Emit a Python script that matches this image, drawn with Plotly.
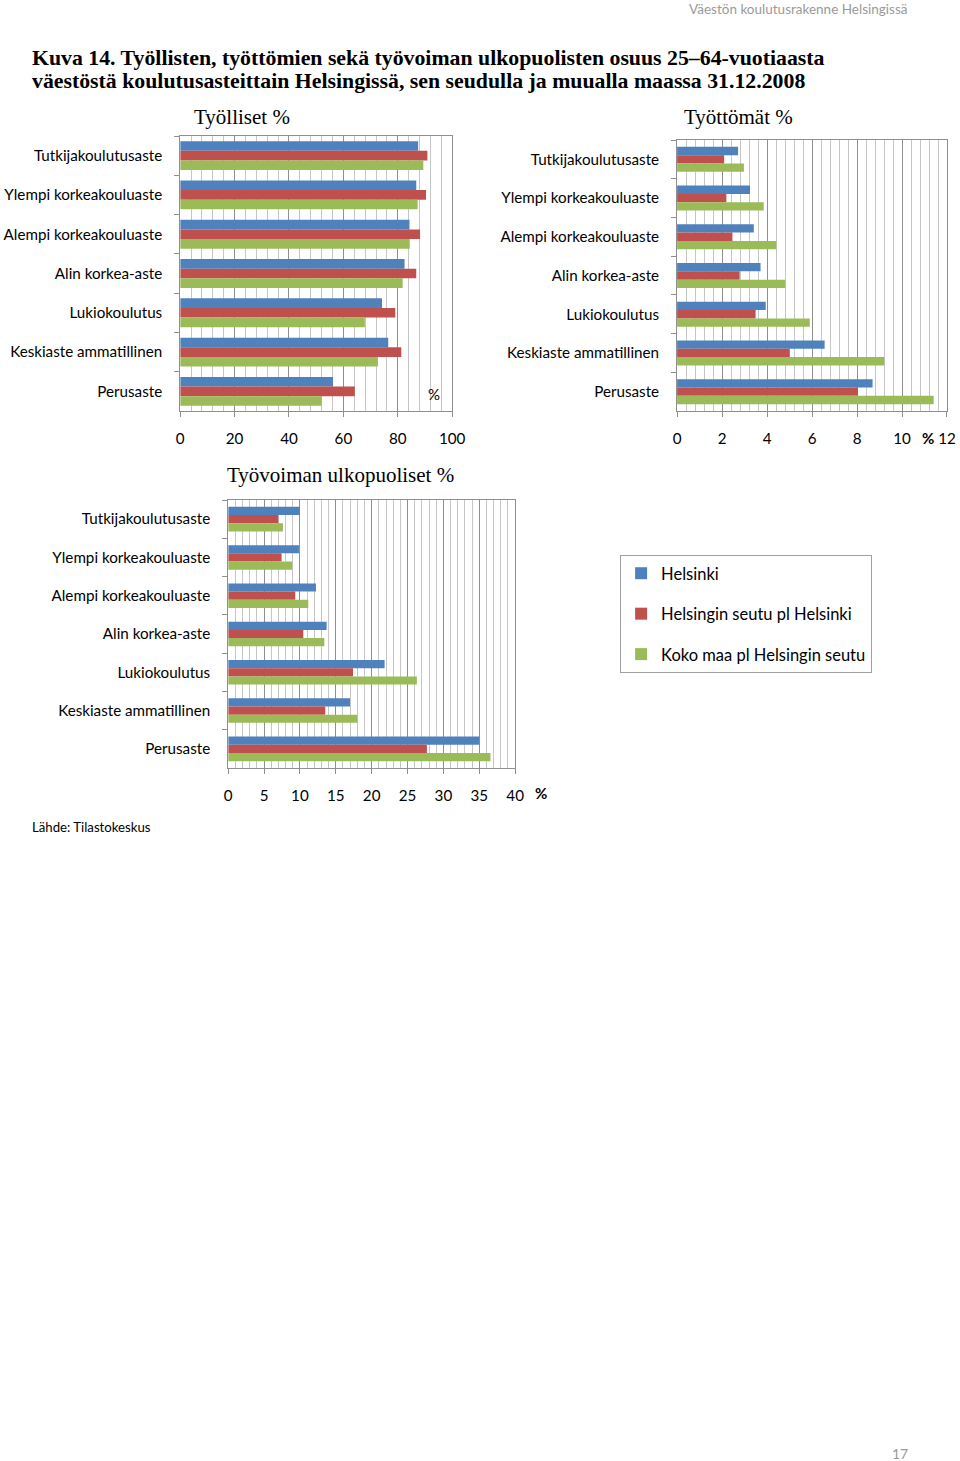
import plotly.graph_objects as go

# ---------------- data ----------------
categories = ["Tutkijakoulutusaste", "Ylempi korkeakouluaste", "Alempi korkeakouluaste",
              "Alin korkea-aste", "Lukiokoulutus", "Keskiaste ammatillinen", "Perusaste"]
series_names = ["Helsinki", "Helsingin seutu pl Helsinki", "Koko maa pl Helsingin seutu"]

employed_helsinki = [87.5, 86.8, 84.3, 82.5, 74.2, 76.5, 56.2]
employed_region = [90.9, 90.4, 88.2, 86.8, 79.1, 81.3, 64.2]
employed_country = [89.4, 87.3, 84.4, 81.8, 67.9, 72.7, 52.0]

unemployed_helsinki = [2.71, 3.24, 3.41, 3.71, 3.94, 6.56, 8.69]
unemployed_region = [2.09, 2.19, 2.46, 2.78, 3.49, 5.01, 8.04]
unemployed_country = [2.97, 3.85, 4.41, 4.81, 5.90, 9.21, 11.41]

outside_helsinki = [10.0, 9.86, 12.23, 13.72, 21.8, 16.98, 35.0]
outside_region = [6.98, 7.44, 9.35, 10.47, 17.4, 13.53, 27.7]
outside_country = [7.63, 8.93, 11.16, 13.40, 26.3, 18.0, 36.56]

panel_titles = ["Työlliset %", "Työttömät %", "Työvoiman ulkopuoliset %"]

# ---------------- styles ----------------
W, H = 960, 1461
XS, XO = 0.9825, 3.75  # horizontal mapping observed in the photographed page
colors = ["#4F81BD", "#C0504D", "#9BBB59"]
SANS = "Lato"
SERIF = "Liberation Serif"
GRID = "#8f8f8f"
MINOR = "#c6c6c6"


def px_x(x):
    v = ((x - XO) / XS) / W
    return min(max(v, 0.0), 1.0)


def px_y(y):
    return 1 - y / H


panels = [
    dict(values=[employed_helsinki, employed_region, employed_country],
         xd=[180, 452], yd=[136, 411], rng=[0, 100], dtick=20, minor=4, barw=0.245),
    dict(values=[unemployed_helsinki, unemployed_region, unemployed_country],
         xd=[677, 949], yd=[140, 411], rng=[0, 12], dtick=2, minor=0.4, barw=0.215),
    dict(values=[outside_helsinki, outside_region, outside_country],
         xd=[228, 515], yd=[500, 768], rng=[0, 40], dtick=5, minor=1, barw=0.214),
]

fig = go.Figure()
layout_axes = {}
for i, p in enumerate(panels):
    sfx = "" if i == 0 else str(i + 1)
    w = p["barw"]
    offsets = [-1.5 * w, -0.5 * w, 0.5 * w]
    for j, vals in enumerate(p["values"]):
        fig.add_trace(go.Bar(
            orientation="h", x=vals, y=categories,
            xaxis="x" + sfx, yaxis="y" + sfx,
            name=series_names[j], legendgroup=series_names[j],
            showlegend=(i == 0),
            marker=dict(color=colors[j], line=dict(width=0)),
            width=w, offset=offsets[j],
        ))
    layout_axes["xaxis" + sfx] = dict(
        domain=[px_x(p["xd"][0]), px_x(p["xd"][1])],
        anchor="y" + sfx, range=p["rng"], dtick=p["dtick"], tick0=0,
        showgrid=True, gridcolor=GRID, gridwidth=1,
        minor=dict(dtick=p["minor"], tick0=0, showgrid=True, gridcolor=MINOR, gridwidth=1),
        showline=True, linecolor=GRID, linewidth=1, mirror=True,
        ticks="outside", ticklen=5, tickcolor=GRID,
        tickfont=dict(family=SANS, size=15.2, color="black"),
        ticklabelstandoff=9, zeroline=False, fixedrange=True,
    )
    layout_axes["yaxis" + sfx] = dict(
        domain=[px_y(p["yd"][1]), px_y(p["yd"][0])],
        anchor="x" + sfx, type="category",
        categoryorder="array", categoryarray=categories,
        autorange="reversed",
        showgrid=False, showline=True, linecolor=GRID, linewidth=1, mirror=True,
        ticks="outside", tickson="boundaries", ticklen=5, tickcolor=GRID,
        tickfont=dict(family=SANS, size=15.2, color="black"),
        ticklabelstandoff=14, fixedrange=True,
    )

annotations = []


def add_text(text, x, y, size, family=SANS, color="black", xanchor="center", bold=False):
    if bold:
        text = "<b>" + text + "</b>"
    annotations.append(dict(text=text, x=px_x(x), y=px_y(y), xref="paper", yref="paper",
                            xanchor=xanchor, yanchor="middle", showarrow=False,
                            font=dict(family=family, size=size, color=color)))


add_text("Väestön koulutusrakenne Helsingissä", 909, 9, 13.5, color="#9a9a9a", xanchor="right")
add_text("Kuva 14. Työllisten, työttömien sekä työvoiman ulkopuolisten osuus 25–64-vuotiaasta",
         30, 58, 21.8, family=SERIF, xanchor="left", bold=True)
add_text("väestöstä koulutusasteittain Helsingissä, sen seudulla ja muualla maassa 31.12.2008",
         30, 81, 21.8, family=SERIF, xanchor="left", bold=True)
add_text(panel_titles[0], 242, 117, 21, family=SERIF)
add_text(panel_titles[1], 738, 117, 21, family=SERIF)
add_text(panel_titles[2], 340, 475, 21, family=SERIF)
add_text("%", 434, 394, 15)
add_text("%", 928, 438, 15, bold=True)
add_text("%", 541, 793, 15, bold=True)
add_text("Lähde: Tilastokeskus", 30, 827, 13.2, xanchor="left")
add_text("17", 900, 1453, 14, color="#9a9a9a")

fig.update_layout(
    width=W, height=H,
    margin=dict(l=0, r=0, t=0, b=0),
    paper_bgcolor="white", plot_bgcolor="white",
    barmode="overlay",
    showlegend=True,
    legend=dict(x=px_x(620), y=px_y(555), xanchor="left", yanchor="top",
                bordercolor="#a0a0a0", borderwidth=1, bgcolor="white",
                font=dict(family=SANS, size=16.5, color="black"),
                tracegroupgap=16, traceorder="grouped",
                itemwidth=30),
    annotations=annotations,
    **layout_axes,
)

fig.write_html(
    "out.html",
    config={"displayModeBar": False},
    post_script="document.body.style.margin='0';"
                "document.documentElement.style.overflow='hidden';"
                "document.body.style.overflow='hidden';",
)
